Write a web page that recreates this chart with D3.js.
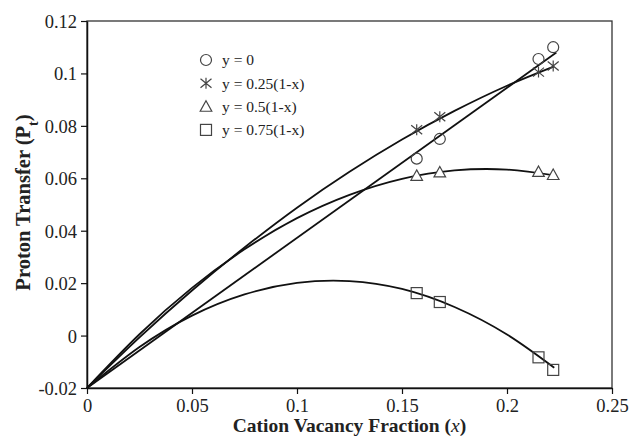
<!DOCTYPE html>
<html><head><meta charset="utf-8">
<script src="https://cdn.jsdelivr.net/npm/d3@7"></script>
<style>body{margin:0;background:#fff}svg{display:block}text{font-family:"Liberation Serif","Times New Roman",serif;fill:#222}</style>
</head><body>
<script>
// Data
const xTicks = [0, 0.05, 0.1, 0.15, 0.2, 0.25];
const yTicks = [-0.02, 0, 0.02, 0.04, 0.06, 0.08, 0.1, 0.12];
const seriesNames = ["y = 0", "y = 0.25(1-x)", "y = 0.5(1-x)", "y = 0.75(1-x)"];
const pointX = [0.157, 0.168, 0.215, 0.222];
const circleY = [0.0675, 0.075, 0.1055, 0.110];
const starY = [0.0785, 0.0835, 0.1005, 0.1028];
const triangleY = [0.061, 0.0623, 0.0625, 0.0613];
const squareY = [0.0162, 0.0128, -0.0083, -0.0131];
// fitted curves
const lineX0 = [0, 0.2235];
const lineY0 = [-0.02, 0.108];
const curveX = [0, 0.025, 0.05, 0.075, 0.1, 0.125, 0.15, 0.175, 0.2, 0.2225];
const curveStar = [-0.02, -0.0007, 0.0172, 0.0336, 0.0488, 0.0625, 0.0748, 0.0857, 0.0953, 0.1027];
const curveTri = [-0.02, 0.0005, 0.0182, 0.0329, 0.0448, 0.0537, 0.0598, 0.0630, 0.0633, 0.0611];
const curveSq = [-0.02, -0.0044, 0.0076, 0.0157, 0.0201, 0.0208, 0.0178, 0.0109, 0.0004, -0.0123];

const W = 630, H = 441;
const m = {left: 87, right: 18, top: 21, bottom: 53};
const svg = d3.select("body").append("svg").attr("width", W).attr("height", H);
const x = d3.scaleLinear().domain([0, 0.25]).range([m.left, W - m.right]);
const y = d3.scaleLinear().domain([-0.02, 0.12]).range([H - m.bottom, m.top]);

// frame
svg.append("rect").attr("x", x(0)).attr("y", y(0.12)).attr("width", x(0.25) - x(0)).attr("height", y(-0.02) - y(0.12))
  .attr("fill", "none").attr("stroke", "#333").attr("stroke-width", 1.3);

const fmt = d => d === 0 ? "0" : String(+d.toFixed(2));
const xa = svg.append("g").attr("transform", `translate(0,${y(-0.02)})`)
  .call(d3.axisBottom(x).tickValues(xTicks).tickFormat(fmt).tickSize(6).tickSizeOuter(0));
const ya = svg.append("g").attr("transform", `translate(${x(0)},0)`)
  .call(d3.axisLeft(y).tickValues(yTicks).tickFormat(fmt).tickSize(6).tickSizeOuter(0));
[xa, ya].forEach(a => {
  a.select(".domain").attr("stroke", "#111").attr("stroke-width", 1.5);
  a.selectAll(".tick line").attr("stroke", "#111").attr("stroke-width", 1.2);
  a.selectAll("text").attr("font-size", 18.5).attr("font-family", "Liberation Serif").attr("fill", "#222");
});
xa.selectAll("text").attr("y", 10).attr("dy", "0.75em");
ya.selectAll("text").attr("x", -10).attr("dy", "0.35em");

// axis titles
svg.append("text").attr("x", (x(0) + x(0.25)) / 2).attr("y", 432).attr("text-anchor", "middle")
  .attr("font-size", 19.5).attr("font-weight", "bold")
  .html('Cation Vacancy Fraction (<tspan font-style="italic" font-weight="normal">x</tspan>)');
svg.append("text").attr("transform", `translate(30,${(y(-0.02) + y(0.12)) / 2 - 2}) rotate(-90)`).attr("text-anchor", "middle")
  .attr("font-size", 20.5).attr("font-weight", "bold")
  .html('Proton Transfer (P<tspan baseline-shift="sub" font-size="14">t</tspan>)');

// curves
const lineGen = d3.line().x(d => x(d[0])).y(d => y(d[1])).curve(d3.curveNatural);
const plot = svg.append("g");
const curves = [d3.zip(lineX0, lineY0), d3.zip(curveX, curveStar), d3.zip(curveX, curveTri), d3.zip(curveX, curveSq)];
curves.forEach(c => plot.append("path").attr("d", lineGen(c)).attr("fill", "none").attr("stroke", "#111").attr("stroke-width", 1.8));

// markers
const mk = "#444";
function drawMarker(g, type, cx, cy) {
  if (type === 0) g.append("circle").attr("cx", cx).attr("cy", cy).attr("r", 5.5).attr("fill", "none").attr("stroke", mk).attr("stroke-width", 1.2);
  else if (type === 1) {
    const r = 5.5, dx = 5.5, dy = 4.5;
    const p = `M${cx},${cy - r}L${cx},${cy + r}M${cx - dx},${cy - dy}L${cx + dx},${cy + dy}M${cx - dx},${cy + dy}L${cx + dx},${cy - dy}`;
    g.append("path").attr("d", p).attr("stroke", mk).attr("stroke-width", 1.2).attr("fill", "none");
  } else if (type === 2) {
    const s = 5.8;
    g.append("path").attr("d", `M${cx},${cy - s}L${cx + s},${cy + s * 0.8}L${cx - s},${cy + s * 0.8}Z`).attr("fill", "#fff").attr("stroke", mk).attr("stroke-width", 1.2);
  } else {
    g.append("rect").attr("x", cx - 5.5).attr("y", cy - 5.5).attr("width", 11).attr("height", 11).attr("fill", "none").attr("stroke", mk).attr("stroke-width", 1.2);
  }
}
const ySets = [circleY, starY, triangleY, squareY];
ySets.forEach((ys, i) => pointX.forEach((px, j) => drawMarker(plot, i, x(px), y(ys[j]))));

// legend
const leg = svg.append("g");
seriesNames.forEach((n, i) => {
  const ly = 60 + i * 23.3;
  drawMarker(leg, i, 206, ly);
  leg.append("text").attr("x", 222).attr("y", ly).attr("dy", "0.35em").attr("font-size", 15.5).text(n);
});
</script>
</body></html>
